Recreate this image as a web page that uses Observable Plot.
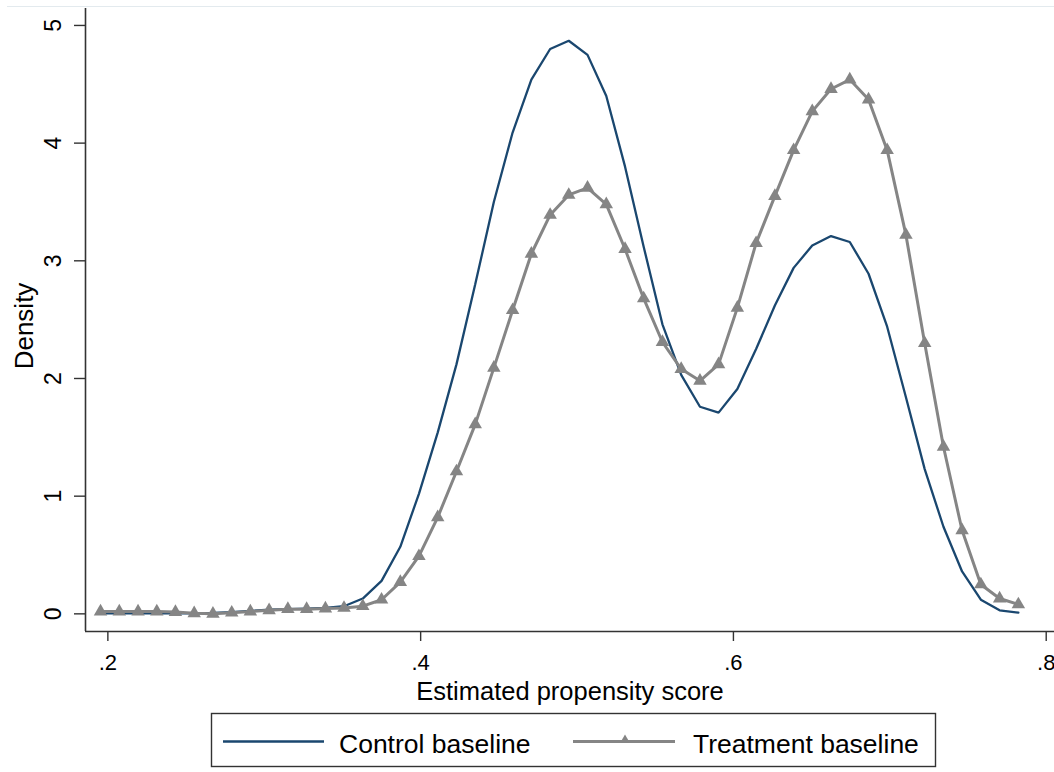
<!DOCTYPE html>
<html>
<head>
<meta charset="utf-8">
<script src="https://cdn.jsdelivr.net/npm/d3@7"></script>
<script src="https://cdn.jsdelivr.net/npm/@observablehq/plot@0.6"></script>
<style>
  html, body { margin: 0; padding: 0; background: #fff; overflow: hidden; }
  #wrap { position: relative; width: 1054px; height: 772px; background: #fff;
          font-family: "Liberation Sans", Arial, Helvetica, sans-serif; }
  #wrap svg { position: absolute; left: 0; }
  #topline { position: absolute; left: 7px; top: 6px; width: 1047px; height: 1px; background: #e3eaee; }
</style>
</head>
<body>
<div id="wrap"><div id="topline"></div></div>
<script>
// ---- data ----
const score = [
  0.1953, 0.2073, 0.2193, 0.2313, 0.2432, 0.2552, 0.2672, 0.2792, 0.2911, 0.3031,
  0.3151, 0.3271, 0.3391, 0.3510, 0.3630, 0.3750, 0.3870, 0.3989, 0.4109, 0.4229,
  0.4349, 0.4468, 0.4588, 0.4708, 0.4828, 0.4947, 0.5067, 0.5187, 0.5307, 0.5426,
  0.5546, 0.5666, 0.5786, 0.5905, 0.6025, 0.6145, 0.6265, 0.6385, 0.6504, 0.6624,
  0.6744, 0.6864, 0.6983, 0.7103, 0.7223, 0.7343, 0.7462, 0.7582, 0.7702, 0.7822
];
const controlDensity = [
  0.005, 0.005, 0.005, 0.005, 0.005, 0.005, 0.008, 0.015, 0.025, 0.035,
  0.040, 0.045, 0.050, 0.065, 0.130, 0.280, 0.570, 1.020, 1.540, 2.120,
  2.800, 3.500, 4.090, 4.540, 4.800, 4.870, 4.750, 4.400, 3.800, 3.120,
  2.460, 2.030, 1.760, 1.710, 1.910, 2.250, 2.620, 2.940, 3.130, 3.210,
  3.160, 2.890, 2.440, 1.840, 1.230, 0.740, 0.360, 0.120, 0.030, 0.010
];
const treatmentDensity = [
  0.020, 0.020, 0.020, 0.020, 0.015, 0.005, 0.000, 0.010, 0.020, 0.030,
  0.040, 0.040, 0.045, 0.050, 0.065, 0.120, 0.270, 0.490, 0.820, 1.210,
  1.610, 2.090, 2.580, 3.060, 3.390, 3.560, 3.620, 3.480, 3.100, 2.680,
  2.310, 2.080, 1.980, 2.120, 2.600, 3.150, 3.550, 3.940, 4.270, 4.460,
  4.540, 4.370, 3.940, 3.220, 2.300, 1.420, 0.710, 0.250, 0.130, 0.080
];
const xTicks = [0.2, 0.4, 0.6, 0.8];
const xTickLabels = [".2", ".4", ".6", ".8"];
const yTicks = [0, 1, 2, 3, 4, 5];
const yTickLabels = ["0", "1", "2", "3", "4", "5"];
const seriesNames = ["Control baseline", "Treatment baseline"];
const seriesColors = ["#1a476f", "#858585"];
const xTitle = "Estimated propensity score";
const yTitle = "Density";

// ---- build ----
const FONT = '"Liberation Sans", Arial, Helvetica, sans-serif';
const control = score.map((x, i) => ({x, y: controlDensity[i]}));
const treatment = score.map((x, i) => ({x, y: treatmentDensity[i]}));
const xDomain = [0.1857, 0.8053];
const yDomain = [-0.150, 5.144];
const axisColor = "#333333";

const plot = Plot.plot({
  width: 1054,
  height: 705,
  marginLeft: 85,
  marginRight: 0,
  marginTop: 8,
  marginBottom: 74,
  x: {domain: xDomain},
  y: {domain: yDomain},
  style: {fontFamily: FONT, background: "transparent", color: axisColor, overflow: "visible"},
  marks: [
    Plot.ruleX([xDomain[0]], {stroke: axisColor, strokeWidth: 1.6}),
    Plot.ruleY([yDomain[0]], {stroke: axisColor, strokeWidth: 1.6}),
    Plot.axisX(xTicks, {
      tickSize: 10, tickPadding: 13, fontSize: 22, stroke: axisColor, strokeWidth: 1.4,
      tickFormat: d => xTickLabels[xTicks.indexOf(d)], label: null, fill: "#000"
    }),
    Plot.axisY(yTicks, {
      tickSize: 11, tickPadding: 0, stroke: axisColor, strokeWidth: 1.4,
      tickFormat: () => "", label: null
    }),
    Plot.text(yTicks, {
      x: xDomain[0], y: d => d, text: d => yTickLabels[yTicks.indexOf(d)],
      rotate: -90, dx: -32, textAnchor: "middle", lineAnchor: "middle",
      fontSize: 23, fill: "#000"
    }),
    Plot.text([yTitle], {
      frameAnchor: "left", text: d => d, rotate: -90, dx: -61, dy: 6,
      textAnchor: "middle", lineAnchor: "middle", fontSize: 26, fill: "#000"
    }),
    Plot.text([xTitle], {
      frameAnchor: "bottom", text: d => d, dy: 50, lineAnchor: "top",
      textAnchor: "middle", fontSize: 25.5, fill: "#000"
    }),
    Plot.line(control, {x: "x", y: "y", stroke: seriesColors[0], strokeWidth: 2.3, strokeLinejoin: "miter"}),
    Plot.line(treatment, {x: "x", y: "y", stroke: seriesColors[1], strokeWidth: 3, strokeLinejoin: "round"}),
    Plot.dot(treatment, {x: "x", y: "y", symbol: "triangle", r: 5, fill: seriesColors[1], stroke: "none"})
  ]
});
plot.style.top = "0px";
document.getElementById("wrap").appendChild(plot);

// ---- legend (below the plot svg) ----
const leg = d3.create("svg")
  .attr("width", 1054).attr("height", 67)
  .style("top", "705px")
  .style("font-family", FONT);
leg.append("rect").attr("x", 211.5).attr("y", 8.5).attr("width", 724).attr("height", 53)
  .attr("fill", "#fff").attr("stroke", axisColor).attr("stroke-width", 1.4);
// control key
leg.append("line").attr("x1", 223).attr("x2", 324).attr("y1", 36.5).attr("y2", 36.5)
  .attr("stroke", seriesColors[0]).attr("stroke-width", 2.3);
leg.append("text").attr("x", 339).attr("y", 48).attr("font-size", 26.5).attr("fill", "#000")
  .text(seriesNames[0]);
// treatment key
leg.append("line").attr("x1", 573).attr("x2", 675).attr("y1", 36.5).attr("y2", 36.5)
  .attr("stroke", seriesColors[1]).attr("stroke-width", 3);
leg.append("path").attr("d", d3.symbol(d3.symbolTriangle, 40)())
  .attr("transform", "translate(625,35)").attr("fill", seriesColors[1]);
leg.append("text").attr("x", 693).attr("y", 48).attr("font-size", 26.5).attr("fill", "#000")
  .text(seriesNames[1]);
document.getElementById("wrap").appendChild(leg.node());
</script>
</body>
</html>
